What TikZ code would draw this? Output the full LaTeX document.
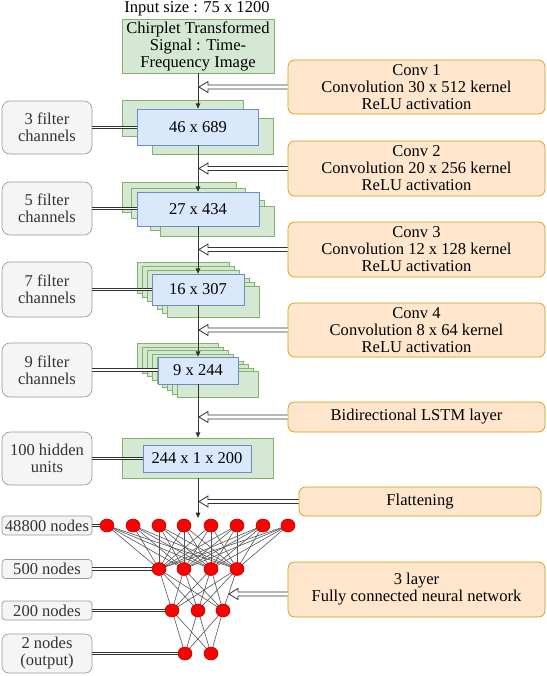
\documentclass[tikz,border=0pt]{standalone}
\usepackage{fontspec}
\setmainfont{Liberation Serif}
\usetikzlibrary{calc,arrows.meta,shapes.geometric}
\pgfdeclarelayer{bg}
\pgfsetlayers{bg,main}
\definecolor{gfill}{HTML}{D5E8D4}
\definecolor{gline}{HTML}{82B366}
\definecolor{bfill}{HTML}{DAE8FC}
\definecolor{bline}{HTML}{6C8EBF}
\definecolor{ofill}{HTML}{FFE6CC}
\definecolor{oline}{HTML}{D79B00}
\definecolor{kfill}{HTML}{F5F5F5}
\definecolor{kline}{HTML}{999999}
\definecolor{ktext}{HTML}{333333}
\definecolor{nfill}{HTML}{FF0000}
\definecolor{nline}{HTML}{B20000}
\definecolor{ink}{HTML}{333333}
\definecolor{edgec}{HTML}{555555}
\tikzset{
  fnt/.style={font=\fontsize{12.4pt}{12.75pt}\selectfont},
  sz/.style 2 args={minimum width=#1*0.75pt, minimum height=#2*0.75pt},
  box/.style={fnt, inner sep=0pt, align=center, line width=0.5pt},
  greenbox/.style={box, fill=gfill, draw=gline},
  bluebox/.style={box, fill=bfill, draw=bline},
  orangebox/.style={box, fill=ofill, draw=oline, rounded corners=5pt},
  graybox/.style={box, fill=kfill, draw=kline, text=ktext, rounded corners=6pt},
  graysmall/.style={graybox, rounded corners=2.5pt},
  greenrect/.style={fill=gfill, draw=gline, line width=0.5pt},
  trunk/.style={draw=ink, line width=0.75pt, -{Triangle[length=4pt,width=3.5pt]}},
  dbl/.style={draw=ink, line width=0.55pt, double=white, double distance=1.2pt},
  flex/.style={draw=ink, line width=0.6pt, fill=white, line join=miter},
  neuron/.style={ellipse, fill=nfill, draw=nline, line width=0.4pt, inner sep=0pt,
                 minimum width=10.5pt, minimum height=9.75pt},
  fcedge/.style={draw=edgec, line width=0.45pt},
}
% n x0 y0 dx dy w h
\newcommand\mystack[7]{%
  \pgfmathtruncatemacro\mylast{#1-1}%
  \foreach \i in {0,...,\mylast}
    \draw[greenrect] ({#2+\i*#4},{#3+\i*#5}) rectangle ++(#6,#7);%
}
% start, tip
\newcommand\myflex[2]{%
  \draw[flex] ($(#1)+(0,-2)$) -- ($(#2)+(9,-2)$) -- ($(#2)+(9,-5.5)$) -- (#2)
     -- ($(#2)+(9,5.5)$) -- ($(#2)+(9,2)$) -- ($(#1)+(0,2)$);%
}
\begin{document}
\begin{tikzpicture}[x=0.75pt,y=-0.75pt]
\useasboundingbox (0,0) rectangle (547,676);
\begin{pgfonlayer}{bg}
\fill[white] (0,0) rectangle (547,676);
\end{pgfonlayer}
\coordinate (tx) at (199,0);

% input
\node[fnt, inner sep=0pt] (inlabel) at (197,9) {Input size : 75 x 1200};
\node[greenbox, sz={152}{54}] (chirp) at (198,46) {Chirplet Transformed\\Signal : Time-\\Frequency Image};

% conv stacks
\mystack{3}{122.5}{100}{15}{9}{121}{36}
\node[bluebox, sz={121}{36}] (b1) at (198,127) {46 x 689};
\mystack{5}{122}{182}{9.5}{6}{114}{30}
\node[bluebox, sz={122}{34}] (b2) at (198,209) {27 x 434};
\mystack{7}{137}{262}{5}{4}{92}{31}
\node[bluebox, sz={92}{31}] (b3) at (198,289.5) {16 x 307};
\mystack{9}{137.5}{343.5}{5}{3.5}{81}{26}
\node[bluebox, sz={80}{27}] (b4) at (198,370.5) {9 x 244};
\node[greenbox, sz={151}{40}] (g5) at (198,458) {};
\node[bluebox, sz={108}{27}] (b5) at (197,458.5) {244 x 1 x 200};

% trunk
\coordinate (fcin) at (198,518);
\draw[trunk] (chirp.south) -- (b1.north);
\draw[trunk] (b1.south) -- (b2.north);
\draw[trunk] (b2.south) -- (b3.north);
\draw[trunk] (b3.south) -- (b4.north);
\draw[trunk] (b4.south) -- (g5.north);
\draw[trunk] (g5.south) -- (fcin);

% right boxes
\node[orangebox, sz={257}{54}] (conv1) at (416.5,87) {Conv 1\\Convolution 30 x 512 kernel\\ReLU activation};
\node[orangebox, sz={257}{55}] (conv2) at (416.5,168.5) {Conv 2\\Convolution 20 x 256 kernel\\ReLU activation};
\node[orangebox, sz={257}{55}] (conv3) at (416.5,249.5) {Conv 3\\Convolution 12 x 128 kernel\\ReLU activation};
\node[orangebox, sz={257}{54}] (conv4) at (416.5,330) {Conv 4\\Convolution 8 x 64 kernel\\ReLU activation};
\node[orangebox, sz={257}{30}] (lstm) at (416.5,417) {Bidirectional LSTM layer};
\node[orangebox, sz={242}{29}] (flat) at (420,501.5) {Flattening};
\node[orangebox, sz={257}{55}] (fc) at (416.5,589.5) {3 layer\\Fully connected neural network};

% flex arrows
\coordinate (a1) at (tx |- conv1.west);
\coordinate (a2) at (tx |- conv2.west);
\coordinate (a3) at (tx |- conv3.west);
\coordinate (a4) at (tx |- conv4.west);
\coordinate (a5) at (tx |- lstm.west);
\coordinate (a6) at (tx |- flat.west);
\coordinate (fcs) at ($(fc.west)+(0,4.5)$);
\coordinate (fct) at (229,594);
\myflex{conv1.west}{a1}
\myflex{conv2.west}{a2}
\myflex{conv3.west}{a3}
\myflex{conv4.west}{a4}
\myflex{lstm.west}{a5}
\myflex{flat.west}{a6}
\myflex{fcs}{fct}

% left boxes
\node[graybox, sz={90}{53}] (k1) at (47,127.5) {3 filter\\channels};
\node[graybox, sz={90}{53}] (k2) at (47,208.5) {5 filter\\channels};
\node[graybox, sz={90}{55}] (k3) at (47,289.5) {7 filter\\channels};
\node[graybox, sz={90}{54}] (k4) at (47,370) {9 filter\\channels};
\node[graybox, sz={90}{53}] (k5) at (47,458.5) {100 hidden\\units};
\node[graysmall, sz={90}{19}] (m1) at (47,525.5) {48800 nodes};
\node[graysmall, sz={90}{19}] (m2) at (47,569) {500 nodes};
\node[graysmall, sz={90}{19}] (m3) at (47,610.5) {200 nodes};
\node[graybox, rounded corners=5pt, sz={90}{39}] (m4) at (47,653.5) {2 nodes\\(output)};

\draw[dbl] (k1.east) -- (k1.east -| b1.west);
\draw[dbl] (k2.east) -- (k2.east -| b2.west);
\draw[dbl] (k3.east) -- (k3.east -| b3.west);
\draw[dbl] (k4.east) -- (k4.east -| b4.west);
\draw[dbl] (k5.east) -- (k5.east -| b5.west);

% neurons
\foreach \x [count=\i] in {107,133,159,184,211,237,263,288}
  \node[neuron] (r1-\i) at (\x,525.5) {};
\foreach \x [count=\i] in {159,184,211,237}
  \node[neuron] (r2-\i) at (\x,569) {};
\foreach \x [count=\i] in {172,198,223}
  \node[neuron] (r3-\i) at (\x,610.5) {};
\foreach \x [count=\i] in {185,211}
  \node[neuron] (r4-\i) at (\x,653.5) {};

\begin{pgfonlayer}{bg}
\foreach \i in {1,...,8} \foreach \j in {1,...,4}
  \draw[fcedge] (r1-\i.center) -- (r2-\j.center);
\foreach \i in {1,...,4} \foreach \j in {1,...,3}
  \draw[fcedge] (r2-\i.center) -- (r3-\j.center);
\foreach \i in {1,...,3} \foreach \j in {1,2}
  \draw[fcedge] (r3-\i.center) -- (r4-\j.center);
\end{pgfonlayer}

\draw[dbl] (m1.east) -- (r1-1.west);
\draw[dbl] (m2.east) -- (r2-1.west);
\draw[dbl] (m3.east) -- (r3-1.west);
\draw[dbl] (m4.east) -- (r4-1.west);
\end{tikzpicture}
\end{document}
